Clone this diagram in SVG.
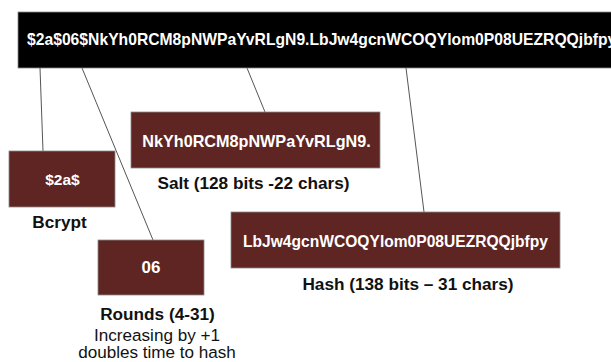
<svg xmlns="http://www.w3.org/2000/svg" width="611" height="362" viewBox="0 0 611 362">
<defs>
<style>
.box{fill:#5e2522;stroke:#8a8a8a;stroke-width:0.8}
.bt{font-family:"Liberation Sans",Arial,sans-serif;font-weight:bold;fill:#ffffff;text-anchor:middle}
.lb{font-family:"Liberation Sans",Arial,sans-serif;font-weight:bold;fill:#111111;text-anchor:middle;font-size:17.2px}
.rg{font-family:"Liberation Sans",Arial,sans-serif;fill:#111111;text-anchor:middle;font-size:17.1px}
.cn{stroke:#555555;stroke-width:1;fill:none}
</style>
<clipPath id="barclip"><rect x="18" y="12" width="593" height="56"/></clipPath>
</defs>
<rect width="611" height="362" fill="#ffffff"/>
<g id="connectors">
<line class="cn" x1="40" y1="68" x2="43" y2="151"/>
<line class="cn" x1="82" y1="68" x2="153" y2="240"/>
<line class="cn" x1="247" y1="68" x2="265" y2="112"/>
<line class="cn" x1="406" y1="68" x2="424" y2="212"/>
</g>
<g id="full-hash">
<rect x="18" y="12" width="600" height="56" fill="#000000" stroke="#8a8a8a" stroke-width="0.8"/>
<g clip-path="url(#barclip)">
<text x="27" y="45" font-family="Liberation Sans,Arial,sans-serif" font-weight="bold" font-size="15.7" fill="#ffffff">$2a$06$NkYh0RCM8pNWPaYvRLgN9.LbJw4gcnWCOQYlom0P08UEZRQQjbfpy</text>
</g>
</g>
<g id="bcrypt">
<rect class="box" x="9" y="151" width="106" height="56"/>
<text class="bt" x="62.5" y="185" font-size="15.5">$2a$</text>
<text class="lb" x="59.5" y="228">Bcrypt</text>
</g>
<g id="rounds">
<rect class="box" x="98" y="240" width="106" height="55"/>
<text class="bt" x="151" y="273" font-size="17">06</text>
<text class="lb" x="157.5" y="320">Rounds (4-31)</text>
<text class="rg" x="157" y="341">Increasing by +1</text>
<text class="rg" x="157" y="358">doubles time to hash</text>
</g>
<g id="salt">
<rect class="box" x="131" y="112" width="249" height="56"/>
<text class="bt" x="256.5" y="147" font-size="16.2">NkYh0RCM8pNWPaYvRLgN9.</text>
<text class="lb" x="253.5" y="189">Salt (128 bits -22 chars)</text>
</g>
<g id="hash">
<rect class="box" x="231" y="212" width="329" height="56"/>
<text class="bt" x="395.5" y="247" font-size="15.6">LbJw4gcnWCOQYlom0P08UEZRQQjbfpy</text>
<text class="lb" x="408" y="290">Hash (138 bits – 31 chars)</text>
</g>
</svg>
